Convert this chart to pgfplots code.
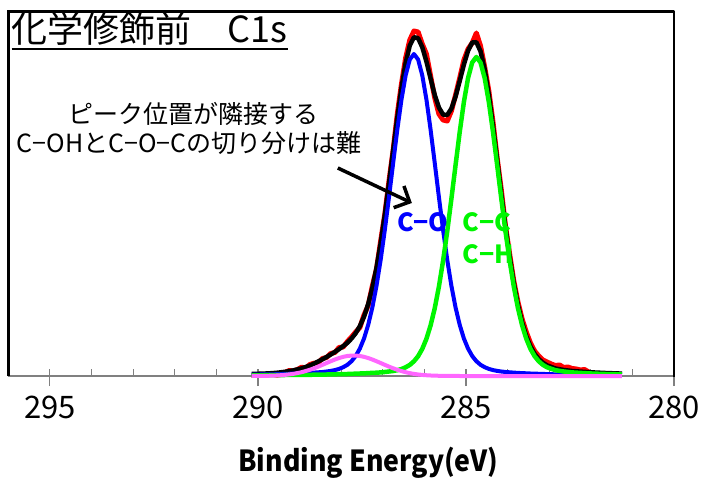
\documentclass[border=0pt]{standalone}
\usepackage{fontspec}
\setmainfont{Noto Sans CJK JP}
\usepackage{pgfplots}
\pgfplotsset{compat=1.18}
\usepackage{pgfplotstable}
\usetikzlibrary{arrows.meta}
\definecolor{pinkc}{RGB}{255,102,255}
\definecolor{greenc}{RGB}{0,245,0}
\definecolor{axgray}{RGB}{128,128,128}

\pgfplotstableread{
E blue green pink fit
290.15 1.3 0.7 0.03 2.0
289.95 1.5 0.7 0.09 2.3
289.75 1.6 0.8 0.22 2.6
289.55 1.8 0.9 0.51 3.2
289.35 2.1 1.0 1.08 4.2
289.15 2.4 1.1 2.11 5.6
288.95 2.7 1.1 3.78 7.6
288.75 3.1 1.2 6.22 10.5
288.65 3.4 1.3 7.73 12.4
288.55 3.7 1.4 9.38 14.5
288.45 4.0 1.5 11.16 16.7
288.35 4.5 1.5 12.98 19.0
288.25 5.1 1.6 14.78 21.5
288.15 5.9 1.7 16.47 24.1
288.05 7.1 1.8 17.96 26.9
287.95 8.8 1.9 19.16 29.9
287.85 11.2 2.0 20.01 33.2
287.75 14.8 2.2 20.45 37.5
287.65 20.0 2.3 20.45 42.8
287.55 27.4 2.5 20.01 49.9
287.45 37.5 2.6 19.16 59.3
287.35 51.1 2.9 17.96 72.0
287.25 68.5 3.1 16.47 88.1
287.15 90.2 3.3 14.78 108.3
287.05 116.2 3.6 12.98 132.8
286.95 146.1 4.0 11.16 161.3
286.85 178.8 4.5 9.38 192.7
286.75 212.9 5.0 7.73 225.6
286.65 246.3 5.8 6.22 258.3
286.55 276.4 7.0 4.91 288.3
286.45 300.6 8.7 3.78 313.1
286.35 316.5 11.1 2.86 330.5
286.25 322.0 14.7 2.11 338.8
286.15 316.5 19.8 1.52 337.8
286.05 300.6 27.1 1.08 328.8
285.95 276.4 37.2 0.75 314.4
285.85 246.3 50.6 0.51 297.4
285.75 212.9 67.8 0.34 281.0
285.65 178.8 89.4 0.22 268.4
285.55 146.1 115.2 0.14 261.4
285.45 116.2 144.7 0.09 261.0
285.35 90.2 177.2 0.05 267.4
285.25 68.5 210.9 0.03 279.4
285.15 51.1 244.0 0 295.1
285.05 37.5 273.9 0 311.4
284.95 27.4 297.9 0 325.3
284.85 20.0 313.5 0 333.5
284.75 14.8 319.0 0 333.8
284.65 11.2 313.5 0 324.7
284.55 8.8 297.9 0 306.7
284.45 7.1 273.9 0 281.0
284.35 5.9 244.0 0 249.9
284.25 5.1 210.9 0 216.0
284.15 4.5 177.2 0 181.7
284.05 4.0 144.7 0 148.7
283.95 3.7 115.2 0 118.9
283.85 3.4 89.4 0 92.8
283.75 3.1 67.8 0 70.9
283.65 2.9 50.6 0 53.5
283.55 2.7 37.2 0 39.9
283.45 2.5 27.1 0 29.6
283.35 2.4 19.8 0 22.2
283.25 2.2 14.7 0 16.9
283.15 2.1 11.1 0 13.2
283.05 1.9 8.7 0 10.6
282.85 1.7 5.8 0 7.5
282.65 1.5 4.5 0 6.0
282.45 1.4 3.6 0 5.0
282.25 1.3 3.1 0 4.4
282.05 1.2 2.6 0 3.8
281.85 1.1 2.3 0 3.4
281.65 1.0 2.0 0 3.0
281.45 0.9 1.8 0 2.7
281.25 0.8 1.6 0 2.4
}\fits

\pgfplotstableread{
E raw
290.15 1.0
290.05 0.5
289.95 1.8
289.85 0.6
289.75 1.5
289.65 2.0
289.55 0.8
289.45 1.5
289.35 3.5
289.25 5.5
289.15 5.0
289.05 6.5
288.95 8.8
288.85 8.0
288.75 11.5
288.65 12.8
288.55 13.5
288.45 17.5
288.35 18.5
288.25 22.5
288.15 23.5
288.05 28.5
287.95 29.0
287.85 34.5
287.75 39.0
287.65 44.0
287.55 48.5
287.45 61.0
287.35 70.5
287.25 90.0
287.15 107.0
287.05 135.0
286.95 162.0
286.85 195.0
286.75 226.0
286.65 262.0
286.55 292.0
286.45 318.0
286.35 336.0
286.25 345.0
286.15 344.0
286.05 332.0
285.95 322.0
285.85 300.0
285.75 278.0
285.65 262.0
285.55 256.0
285.45 255.0
285.35 265.0
285.25 281.0
285.15 298.0
285.05 316.0
284.95 327.0
284.85 333.0
284.75 343.0
284.65 330.0
284.55 309.0
284.45 285.0
284.35 254.0
284.25 218.0
284.15 186.0
284.05 150.0
283.95 122.0
283.85 95.0
283.75 74.0
283.65 57.0
283.55 44.0
283.45 33.0
283.35 25.0
283.25 20.0
283.15 16.0
283.05 14.0
282.95 12.0
282.85 10.5
282.75 11.0
282.65 8.5
282.55 9.0
282.45 7.5
282.35 7.0
282.25 6.0
282.15 6.5
282.05 4.0
}\raw

\begin{document}
\begin{tikzpicture}
\useasboundingbox (0,0) rectangle (702pt,477pt);
\begin{axis}[
  at={(8.3pt,101pt)}, anchor=south west,
  scale only axis, width=665.7pt, height=364.3pt,
  xmin=280, xmax=296, ymin=0, ymax=364.3,
  x dir=reverse,
  axis x line*=bottom, axis y line*=left,
  x axis line style={-, draw=axgray, line width=2pt},
  y axis line style={-, draw=black, line width=2.5pt},
  ytick=\empty,
  xtick={280,285,290,295},
  minor xtick={281,282,283,284,286,287,288,289,291,292,293,294},
  tick align=inside,
  major tick length=7pt, minor tick length=7pt,
  tick style={draw=axgray, line width=1.2pt},
  extra x ticks={280,285,290,295},
  extra x tick labels={},
  extra x tick style={tick align=outside, major tick length=10pt},
  /pgf/number format/assume math mode=true,
  xticklabel style={font=\fontsize{31}{36}\selectfont, anchor=base, yshift=-42pt},
  xlabel={\bfseries\scalebox{0.92}[1]{Binding Energy(eV)}},
  xlabel style={at={(axis description cs:0.5,0)}, anchor=base, xshift=27pt, yshift=-95pt, font=\fontsize{29}{34}\selectfont},
  clip=false,
  line join=round,
]
\addplot[red, line width=5pt] table[x=E, y=raw] {\raw};
\addplot[black, line width=4.5pt] table[x=E, y=fit] {\fits};
\addplot[blue, line width=4pt] table[x=E, y=blue] {\fits};
\addplot[greenc, line width=4.5pt] table[x=E, y=green] {\fits};
\addplot[pinkc, line width=4pt] table[x=E, y=pink] {\fits};

\draw[black, line width=2.5pt, line cap=rect] (rel axis cs:0,1) -- (rel axis cs:1,1) -- (rel axis cs:1,0);

\node[anchor=base west, inner sep=0pt, font=\fontsize{36}{42}\selectfont] (ttl) at (axis cs:295.92,333) {化学修飾前　C1s};
\draw[line width=2pt] ([yshift=-6pt]ttl.base west) -- ([yshift=-6pt]ttl.base east);

\node[anchor=base, inner sep=0pt, font=\fontsize{25}{30}\selectfont] at (axis cs:291.55,252) {ピーク位置が隣接する};
\node[anchor=base, inner sep=0pt, font=\fontsize{25}{30}\selectfont] at (axis cs:291.65,223) {C−OHとC−O−Cの切り分けは難};

\draw[line width=3.5pt, -{Straight Barb[length=12pt,width=24pt]}] (axis cs:288.08,208) -- (axis cs:286.30,173);

\node[anchor=west, inner sep=0pt, text=blue, font=\bfseries\fontsize{25}{30}\selectfont] at (axis cs:286.66,154) {C−O};
\node[anchor=west, inner sep=0pt, text=greenc, font=\bfseries\fontsize{25}{30}\selectfont] at (axis cs:285.08,154) {C−C};
\node[anchor=west, inner sep=0pt, text=greenc, font=\bfseries\fontsize{25}{30}\selectfont] at (axis cs:285.08,122) {C−H};
\end{axis}
\end{tikzpicture}
\end{document}
